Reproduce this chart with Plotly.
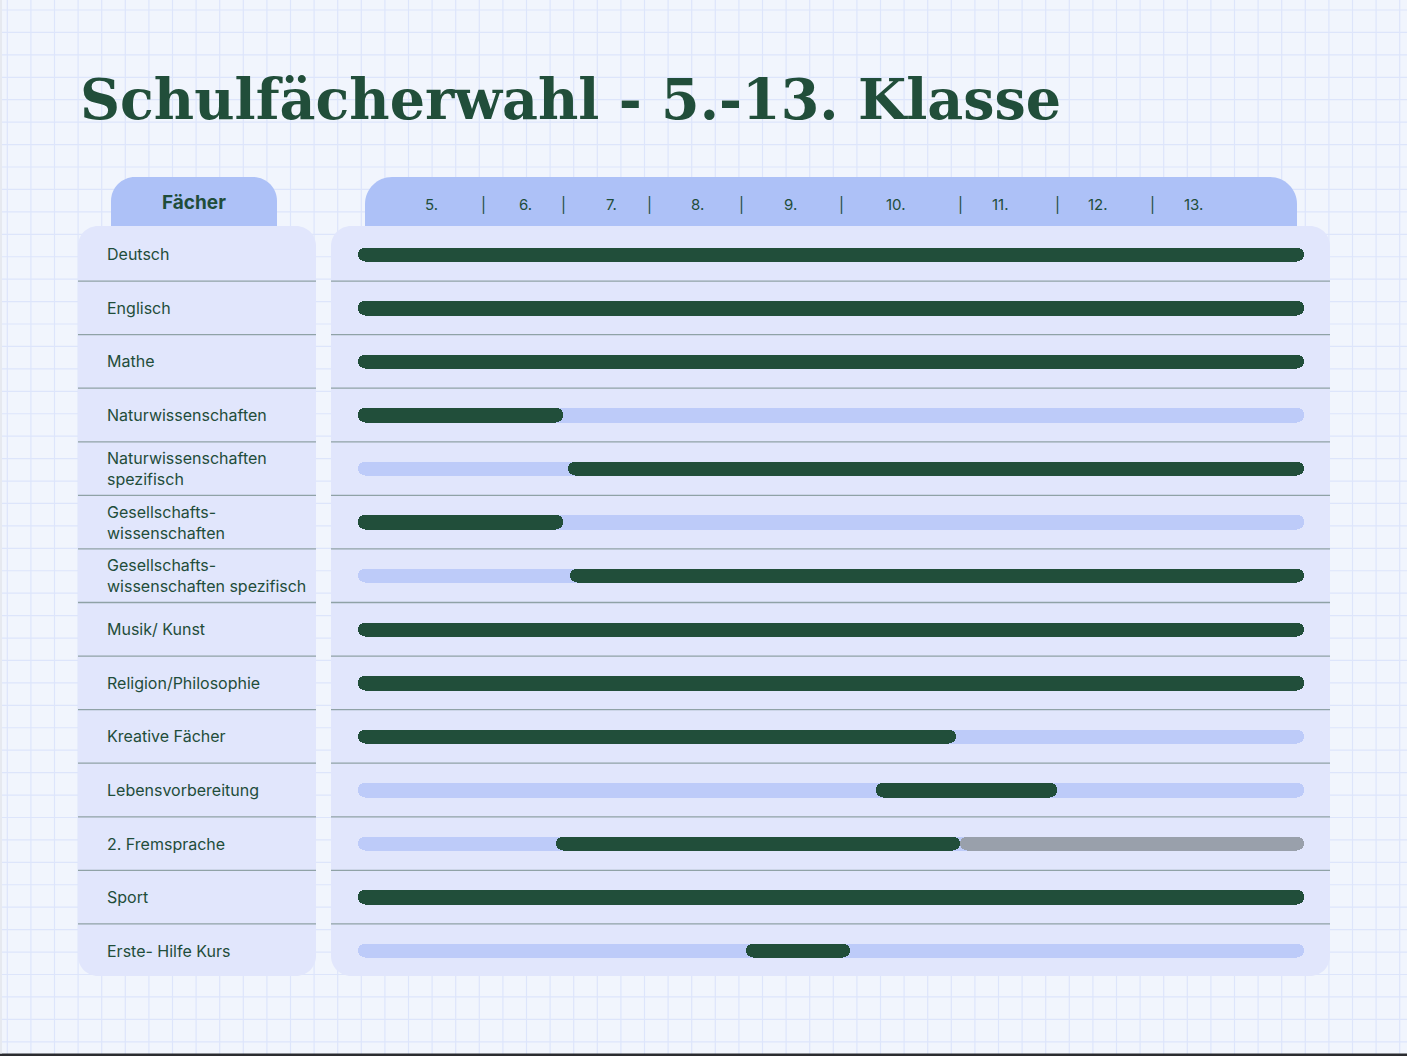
import plotly.graph_objects as go

# ---------------- data ----------------
subjects = [
    "Deutsch", "Englisch", "Mathe", "Naturwissenschaften",
    "Naturwissenschaften<br>spezifisch", "Gesellschafts-<br>wissenschaften",
    "Gesellschafts-<br>wissenschaften spezifisch", "Musik/ Kunst",
    "Religion/Philosophie", "Kreative Fächer", "Lebensvorbereitung",
    "2. Fremsprache", "Sport", "Erste- Hilfe Kurs",
]
# school-year scale: 5 = start of grade 5, 14 = end of grade 13
track_start = [5, 5, 5, 5, 5, 5, 5, 5, 5, 5, 5, 5, 5, 5]
track_end = [14, 14, 14, 14, 14, 14, 14, 14, 14, 14, 14, 14, 14, 14]
dark_start = [5, 5, 5, 5, 7.0, 5, 7.02, 5, 5, 5, 9.93, 6.88, 5, 8.69]
dark_end = [14, 14, 14, 6.95, 14, 6.95, 14, 14, 14, 10.69, 11.65, 10.73, 14, 9.68]
grey_rows = [11]
grey_start = [10.73]
grey_end = [14]

grade_labels = ["5.", "6.", "7.", "8.", "9.", "10.", "11.", "12.", "13."]
grade_label_pos = [5.695, 6.589, 7.407, 8.230, 9.115, 10.121, 11.117, 12.040, 12.944]
separator_pos = [6.192, 6.953, 7.771, 8.650, 9.602, 10.727, 11.653, 12.561]

title_text = "Schulfächerwahl - 5.-13. Klasse"
column_header = "Fächer"

# ---------------- style ----------------
W, H = 1407, 1056
BG = "#f1f5fd"
GRID = "#dde5fb"
PANEL = "#e1e6fc"
TAB = "#adc1f7"
TRACK = "#bdcbf9"
DARK = "#214e3a"
GREY = "#99a0ab"
SEP = "#8fa2a6"
TXT = "#1f4d3a"
FONT = "Inter"


def px(x):
    return x / W


def py(y):
    return (H - y) / H


def rounded_rect(x0, y0, x1, y1, r_tl, r_tr, r_br, r_bl):
    k = 0.5523
    def P(x, y):
        return f"{px(x):.6f},{py(y):.6f}"
    d = f"M {P(x0 + r_tl, y0)} L {P(x1 - r_tr, y0)} "
    if r_tr:
        d += f"C {P(x1 - r_tr + k * r_tr, y0)} {P(x1, y0 + r_tr - k * r_tr)} {P(x1, y0 + r_tr)} "
    d += f"L {P(x1, y1 - r_br)} "
    if r_br:
        d += f"C {P(x1, y1 - r_br + k * r_br)} {P(x1 - r_br + k * r_br, y1)} {P(x1 - r_br, y1)} "
    d += f"L {P(x0 + r_bl, y1)} "
    if r_bl:
        d += f"C {P(x0 + r_bl - k * r_bl, y1)} {P(x0, y1 - r_bl + k * r_bl)} {P(x0, y1 - r_bl)} "
    d += f"L {P(x0, y0 + r_tl)} "
    if r_tl:
        d += f"C {P(x0, y0 + r_tl - k * r_tl)} {P(x0 + r_tl - k * r_tl, y0)} {P(x0 + r_tl, y0)} "
    d += "Z"
    return d


shapes = []
# graph-paper background
gx = 7.3
while gx < W:
    shapes.append(dict(type="line", xref="paper", yref="paper", x0=px(gx), x1=px(gx),
                       y0=0, y1=1, line=dict(color=GRID, width=1.2), layer="below"))
    gx += 23.6
gy = 10.0
while gy < H:
    shapes.append(dict(type="line", xref="paper", yref="paper", x0=0, x1=1,
                       y0=py(gy), y1=py(gy), line=dict(color=GRID, width=1.2), layer="below"))
    gy += 22.43
# bottom dark strip and left edge
shapes.append(dict(type="rect", xref="paper", yref="paper", x0=0, x1=1, y0=0, y1=py(1053.5),
                   fillcolor="#2b2c30", line=dict(width=0), layer="below"))
shapes.append(dict(type="rect", xref="paper", yref="paper", x0=0, x1=px(2), y0=py(1053.5), y1=1,
                   fillcolor="#e6e9f0", line=dict(width=0), layer="below"))

# header tabs
shapes.append(dict(type="path", xref="paper", yref="paper",
                   path=rounded_rect(111, 177, 277, 228, 24, 24, 0, 0),
                   fillcolor=TAB, line=dict(width=0), layer="below"))
shapes.append(dict(type="path", xref="paper", yref="paper",
                   path=rounded_rect(365, 177, 1297, 228, 27, 27, 0, 0),
                   fillcolor=TAB, line=dict(width=0), layer="below"))
# panels
shapes.append(dict(type="path", xref="paper", yref="paper",
                   path=rounded_rect(78, 226, 316, 976, 20, 20, 20, 20),
                   fillcolor=PANEL, line=dict(width=0), layer="below"))
shapes.append(dict(type="path", xref="paper", yref="paper",
                   path=rounded_rect(331, 226, 1330, 976, 20, 20, 20, 20),
                   fillcolor=PANEL, line=dict(width=0), layer="below"))

# row separators
n = len(subjects)
for i in range(n - 1):
    for (a, b) in [(78, 316), (331, 1330)]:
        shapes.append(dict(type="line", xref="paper", yref="y", x0=px(a), x1=px(b),
                           y0=i + 0.5, y1=i + 0.5, line=dict(color=SEP, width=1.3),
                           layer="below"))

rows = list(range(n))
bar_w = 0.27

fig = go.Figure()
fig.add_trace(go.Bar(
    y=rows, base=track_start, x=[e - s for s, e in zip(track_start, track_end)],
    orientation="h", width=bar_w, marker=dict(color=TRACK, cornerradius=7, line=dict(width=0)),
    hoverinfo="skip", showlegend=False))
fig.add_trace(go.Bar(
    y=grey_rows, base=grey_start, x=[e - s for s, e in zip(grey_start, grey_end)],
    orientation="h", width=bar_w, marker=dict(color=GREY, cornerradius=7, line=dict(width=0)),
    hoverinfo="skip", showlegend=False))
fig.add_trace(go.Bar(
    y=rows, base=dark_start, x=[e - s for s, e in zip(dark_start, dark_end)],
    orientation="h", width=bar_w, marker=dict(color=DARK, cornerradius=7, line=dict(width=0)),
    hoverinfo="skip", showlegend=False))

annotations = []
# title
annotations.append(dict(text=title_text, xref="paper", yref="paper", x=px(78), y=py(99),
                        xanchor="left", yanchor="middle", showarrow=False,
                        font=dict(family="DejaVu Serif", size=55.5, color=DARK, weight="bold")))
# column header
annotations.append(dict(text=column_header, xref="paper", yref="paper", x=px(194), y=py(202),
                        xanchor="center", yanchor="middle", showarrow=False,
                        font=dict(family=FONT, size=19, color=TXT, weight="bold")))
# grade labels
for lab, pos in zip(grade_labels, grade_label_pos):
    annotations.append(dict(text=lab, xref="x", yref="paper", x=pos, y=py(205),
                            xanchor="center", yanchor="middle", showarrow=False,
                            font=dict(family=FONT, size=15, color=TXT)))
for pos in separator_pos:
    annotations.append(dict(text="|", xref="x", yref="paper", x=pos, y=py(205),
                            xanchor="center", yanchor="middle", showarrow=False,
                            font=dict(family=FONT, size=15, color=TXT)))
# row labels
for i, s in enumerate(subjects):
    annotations.append(dict(text=s, xref="paper", yref="y", x=px(104.5), y=i,
                            xanchor="left", yanchor="middle", align="left", showarrow=False,
                            font=dict(family=FONT, size=16, color=TXT)))

fig.update_layout(
    width=W, height=H,
    margin=dict(l=0, r=0, t=0, b=0),
    paper_bgcolor=BG, plot_bgcolor="rgba(0,0,0,0)",
    barmode="overlay", bargap=0,
    shapes=shapes, annotations=annotations,
    xaxis=dict(domain=[px(331), px(1330)], range=[4.743, 14.247], visible=False, fixedrange=True),
    yaxis=dict(domain=[py(977.5), py(227.5)], range=[n - 0.5, -0.5], visible=False, fixedrange=True),
    showlegend=False,
)

fig.write_html("out.html", config=dict(displayModeBar=False),
               post_script="document.body.style.margin='0px';document.body.style.overflow='hidden';")
